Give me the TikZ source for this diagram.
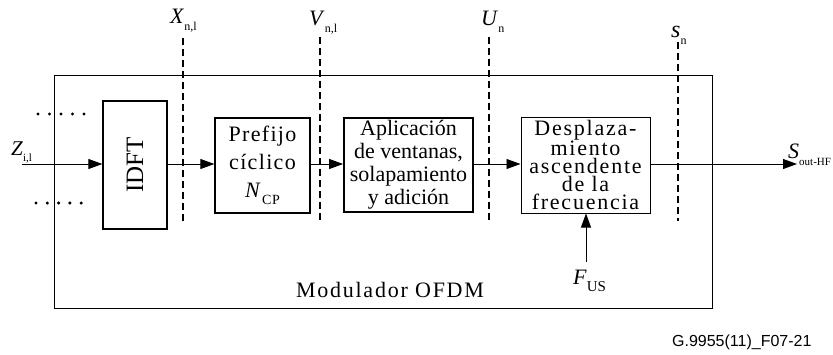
\documentclass[tikz,border=0pt]{standalone}
\usepackage{fontspec}
\setmainfont{Liberation Serif}
\setsansfont{Liberation Sans}
\usetikzlibrary{arrows.meta}
% italic symbol with a lowered upright subscript
\newcommand{\sig}[3][12]{\textit{#2}\raisebox{-0.32em}{\fontsize{#1}{#1}\selectfont #3}}
\begin{document}
\begin{tikzpicture}[x=1pt,y=-1pt,
  blk/.style={draw,line width=1.3pt,inner sep=0pt,align=center},
  probe/.style={line width=2pt,dash pattern=on 7pt off 4pt},
  sigarrow/.style={line width=0.8pt,-{Triangle[length=14pt,width=10pt]}},
  lbl/.style={inner sep=0pt,anchor=base west,font=\fontsize{22}{22}\selectfont}]
\useasboundingbox (0,0) rectangle (833,354);
% modulator enclosure
\draw[line width=0.8pt] (54,75) rectangle (712,308);
\node[anchor=base,font=\fontsize{22}{22}\selectfont\addfontfeatures{LetterSpace=8}] (mod) at (390,297) {Modulador OFDM};
% processing blocks
\node[blk,minimum width=64pt,minimum height=128pt,font=\fontsize{25}{25}\selectfont] (idft) at (135,165) {\rotatebox{90}{IDFT}};
\node[blk,minimum width=95pt,minimum height=95pt,font=\fontsize{22}{28}\selectfont\addfontfeatures{LetterSpace=6}] (cp) at (262.5,165.5) {Prefijo\\cíclico\\\sig[14]{N}{CP}};
\node[blk,line width=1.8pt,minimum width=129pt,minimum height=94pt,font=\fontsize{22}{23}\selectfont] (win) at (408.5,165) {Aplicación\\de ventanas,\\solapamiento\\y adición};
\node[blk,line width=1pt,minimum width=129pt,minimum height=96pt,font=\fontsize{22}{18}\selectfont\addfontfeatures{LetterSpace=8}] (shift) at (585.5,165) {Desplaza-\\miento\\ascendente\\de la\\frecuencia};
% input, output and control signals
\coordinate (zin) at (22,164);
\coordinate (sout) at (797,164);
\coordinate (fus) at (586,262);
\node[lbl,font=\fontsize{21}{21}\selectfont] (zl) at (11,155) {\sig[11]{Z}{i,l}};
\node[lbl] (sl) at (788,158) {\sig[11]{S}{out-HF}};
\node[lbl] (fl) at (573,284) {\sig[15]{F}{US}};
\draw[sigarrow] (zin) -- (idft.west |- zin);
\draw[sigarrow] (idft.east |- zin) -- (cp.west |- zin);
\draw[sigarrow] (cp.east |- zin) -- (win.west |- zin);
\draw[sigarrow] (win.east |- zin) -- (shift.west |- zin);
\draw[sigarrow] (shift.east |- zin) -- (sout);
\draw[sigarrow] (fus) -- (shift.south -| fus);
% parallel input streams
\foreach \i in {0,...,4} {
  \fill (38+11.5*\i,114) circle (1.7pt);
  \fill (36+11.3*\i,203) circle (1.7pt);
}
% observation points
\coordinate (xt) at (183,38); \coordinate (xb) at (183,223);
\coordinate (vt) at (320,37); \coordinate (vb) at (320,222);
\coordinate (ut) at (489,37); \coordinate (ub) at (489,222);
\coordinate (st) at (678,42); \coordinate (sb) at (678,221);
\draw[probe] (xt) -- (xb);
\draw[probe] (vt) -- (vb);
\draw[probe] (ut) -- (ub);
\draw[probe] (st) -- (sb);
\node[lbl] (xl) at (170,23) {\sig{X}{n,l}};
\node[lbl] (vl) at (309,25) {\sig{V}{n,l}};
\node[lbl] (ul) at (481,25) {\sig{U}{n}};
\node[lbl,font=\fontsize{24}{24}\selectfont] (sl2) at (671,37) {\sig{s}{n}};
% figure reference
\node[font=\sffamily\fontsize{16}{16}\selectfont,anchor=base east] (ref) at (815,346) {G.9955(11)\_F07-21};
\end{tikzpicture}
\end{document}
